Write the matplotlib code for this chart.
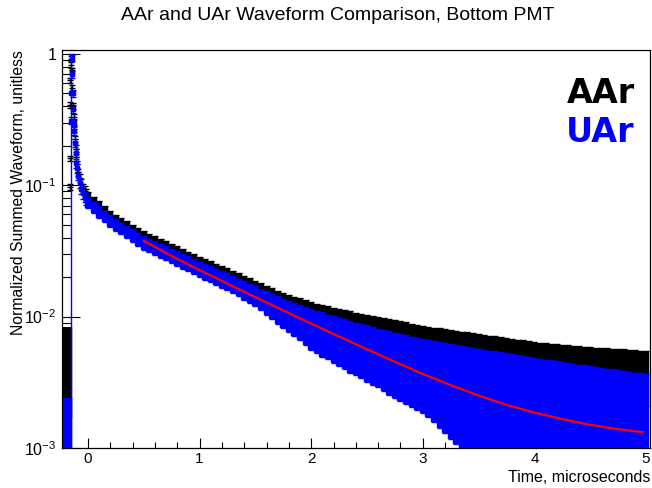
import numpy as np
import matplotlib
matplotlib.use("Agg")
import matplotlib.pyplot as plt
from matplotlib.ticker import LogLocator, NullFormatter, MultipleLocator

plt.rcParams['font.family'] = ['Liberation Sans', 'DejaVu Sans']
plt.rcParams['mathtext.fontset'] = 'custom'
plt.rcParams['mathtext.rm'] = 'Liberation Sans'
plt.rcParams['mathtext.it'] = 'Liberation Sans:italic'

# ---- data ----
# pre-trigger baseline
pre_t = [-0.226, -0.207, -0.188, -0.170]
aar_pre = [0.0050, 0.0050, 0.0050, 0.0050]
aar_pre_err = [0.0033, 0.0033, 0.0033, 0.0033]
uar_pre = [0.0014, 0.0014, 0.0014, 0.0014]
uar_pre_err = [0.0010, 0.0010, 0.0010, 0.0010]

# prompt peak
aar_peak_t = [-0.163, -0.161, -0.159, -0.157, -0.155, -0.150, -0.145, -0.140, -0.135, -0.128,
              -0.122, -0.116, -0.110, -0.104, -0.097, -0.088, -0.074, -0.060, -0.045, -0.030, -0.015]
aar_peak = [0.097, 0.16, 0.41, 0.63, 0.82, 0.92, 0.75, 0.55, 0.40, 0.33,
            0.27, 0.225, 0.19, 0.163, 0.145, 0.126, 0.113, 0.103, 0.095, 0.090, 0.085]
aar_peak_err = [0.005, 0.008, 0.02, 0.03, 0.04, 0.04, 0.035, 0.03, 0.02, 0.018,
                0.015, 0.013, 0.011, 0.01, 0.009, 0.008, 0.008, 0.008, 0.008, 0.008, 0.008]

uar_peak_t = [-0.154, -0.150, -0.146, -0.142, -0.138, -0.134, -0.128, -0.122, -0.117, -0.112,
              -0.106, -0.100, -0.090, -0.075, -0.060, -0.045, -0.030, -0.015]
uar_peak = [0.5, 0.31, 0.93, 0.70, 0.50, 0.38, 0.30, 0.26, 0.21, 0.177,
            0.147, 0.135, 0.118, 0.104, 0.094, 0.087, 0.082, 0.078]
uar_peak_err = [0.4995, 0.02, 0.05, 0.04, 0.03, 0.025, 0.02, 0.017, 0.014, 0.012,
                0.011, 0.01, 0.009, 0.008, 0.008, 0.008, 0.0075, 0.0072]

# slow tail, 0.05 us bins from 0 to 5 us
tail_t = np.round(np.arange(0.0, 5.001, 0.05), 2)
aar_tail = [0.0816, 0.0748, 0.0690, 0.0637, 0.0590, 0.0548,
            0.0517, 0.0487, 0.0459, 0.0433, 0.0408,
            0.0390, 0.0372, 0.0356, 0.0340, 0.0325,
            0.0310, 0.0296, 0.0283, 0.0270, 0.0258,
            0.0248, 0.0238, 0.0228, 0.0219, 0.0210,
            0.0200, 0.0191, 0.0182, 0.0174, 0.0166,
            0.0158, 0.0151, 0.0143, 0.0137, 0.0130,
            0.0125, 0.0120, 0.0116, 0.0111, 0.0107,
            0.01038, 0.01008, 0.00978, 0.00949, 0.00921,
            0.00897, 0.00874, 0.00852, 0.00830, 0.00809,
            0.00790, 0.00772, 0.00754, 0.00736, 0.00719,
            0.00702, 0.00686, 0.00670, 0.00654, 0.00639,
            0.00627, 0.00614, 0.00602, 0.00590, 0.00579,
            0.00568, 0.00558, 0.00548, 0.00538, 0.00528,
            0.00520, 0.00513, 0.00505, 0.00497, 0.00490,
            0.00483, 0.00476, 0.00470, 0.00463, 0.00456,
            0.00450, 0.00445, 0.00440, 0.00434, 0.00429,
            0.00425, 0.00421, 0.00416, 0.00412, 0.00408,
            0.00405, 0.00402, 0.00399, 0.00396, 0.00393,
            0.00390, 0.00387, 0.00384, 0.00381, 0.00378]
aar_tail_err = [0.0073, 0.0068, 0.0063, 0.0057, 0.0052, 0.0047,
                0.0046, 0.0045, 0.0043, 0.0042, 0.0041,
                0.0039, 0.0038, 0.0036, 0.0035, 0.0033,
                0.0032, 0.0031, 0.0030, 0.0028, 0.0027,
                0.0026, 0.0026, 0.0025, 0.0025, 0.0024,
                0.0023, 0.0023, 0.0022, 0.0022, 0.0021,
                0.0021, 0.0021, 0.0021, 0.0021, 0.0021,
                0.00212, 0.00214, 0.00216, 0.00218, 0.0022,
                0.0022, 0.00221, 0.00221, 0.00222, 0.00222,
                0.00221, 0.00221, 0.0022, 0.0022, 0.00219,
                0.0022, 0.00221, 0.00222, 0.00223, 0.00224,
                0.00221, 0.00218, 0.00215, 0.00212, 0.00209,
                0.0021, 0.0021, 0.00211, 0.00211, 0.00212,
                0.00212, 0.00211, 0.00211, 0.0021, 0.0021,
                0.00207, 0.00205, 0.00202, 0.0020, 0.00197,
                0.00195, 0.00192, 0.0019, 0.00187, 0.00185,
                0.00184, 0.00183, 0.00181, 0.0018, 0.00179,
                0.00179, 0.00179, 0.00178, 0.00178, 0.00178,
                0.00177, 0.00176, 0.00175, 0.00174, 0.00173,
                0.00172, 0.00171, 0.0017, 0.0017, 0.00169]
uar_tail = [0.0743, 0.0680, 0.0627, 0.0580, 0.0538, 0.0501,
            0.0471, 0.0442, 0.0416, 0.0391, 0.0367,
            0.0351, 0.0335, 0.0320, 0.0306, 0.0292,
            0.0279, 0.0266, 0.0254, 0.0242, 0.0231,
            0.0221, 0.0212, 0.0203, 0.0194, 0.0186,
            0.0177, 0.01685, 0.0160, 0.01525, 0.01453,
            0.01372, 0.01295, 0.01223, 0.01154, 0.0109,
            0.01037, 0.00987, 0.00939, 0.00893, 0.0085,
            0.00817, 0.00786, 0.00756, 0.00727, 0.00699,
            0.00676, 0.00653, 0.00631, 0.0061, 0.0059,
            0.0057, 0.0055, 0.00531, 0.00513, 0.00495,
            0.00481, 0.00468, 0.00455, 0.00442, 0.0043,
            0.00417, 0.00404, 0.00391, 0.00379, 0.00367,
            0.00357, 0.00347, 0.00337, 0.00327, 0.00318,
            0.00313, 0.00308, 0.00303, 0.00298, 0.00294,
            0.00289, 0.00284, 0.00279, 0.00275, 0.0027,
            0.00266, 0.00262, 0.00258, 0.00254, 0.0025,
            0.00246, 0.00242, 0.00238, 0.00234, 0.0023,
            0.00228, 0.00226, 0.00224, 0.00222, 0.0022,
            0.00218, 0.00216, 0.00214, 0.00212, 0.0021]
uar_tail_err = [0.0070, 0.0066, 0.0062, 0.0058, 0.0054, 0.0050,
                0.0049, 0.0047, 0.0046, 0.0044, 0.0043,
                0.0042, 0.0040, 0.0039, 0.0037, 0.0036,
                0.0035, 0.0034, 0.0033, 0.0032, 0.0031,
                0.0030, 0.0029, 0.0029, 0.0028, 0.0027,
                0.0027, 0.0026, 0.0026, 0.0025, 0.0025,
                0.0025, 0.0026, 0.0026, 0.0027, 0.0027,
                0.0027, 0.0028, 0.0028, 0.0029, 0.0029,
                0.0029, 0.0029, 0.0028, 0.0028, 0.0028,
                0.0028, 0.0028, 0.0027, 0.0027, 0.0027,
                0.0027, 0.0026, 0.0026, 0.0026, 0.00255,
                0.00253, 0.00251, 0.00249, 0.00247, 0.00245,
                0.00246, 0.00247, 0.00248, 0.00249, 0.0025,
                0.0025, 0.0025, 0.00249, 0.00249, 0.00248,
                0.00245, 0.00242, 0.0024, 0.00237, 0.00234,
                0.0023, 0.00226, 0.00222, 0.00218, 0.00214,
                0.00211, 0.00208, 0.00206, 0.00203, 0.0020,
                0.00198, 0.00196, 0.00194, 0.00192, 0.0019,
                0.00186, 0.00182, 0.00178, 0.00174, 0.0017,
                0.00167, 0.00164, 0.00161, 0.00158, 0.00156]

# fit curve on the UAr tail
fit_t = [0.5, 0.75, 1.0, 1.25, 1.5, 1.75, 2.0, 2.25, 2.5, 2.75,
         3.0, 3.25, 3.5, 3.75, 4.0, 4.25, 4.5, 4.75, 4.97]
fit_vals = [0.0377, 0.0289, 0.0226, 0.0178, 0.01406, 0.01114, 0.00885, 0.00705, 0.00564, 0.00453,
            0.00366, 0.00301, 0.00251, 0.00213, 0.00186, 0.00166, 0.00150, 0.00139, 0.00132]

xticks = [0, 1, 2, 3, 4, 5]
yticks = [1e-3, 1e-2, 1e-1, 1]
ytick_labels = ['$10^{-3}$', '$10^{-2}$', '$10^{-1}$', '1']

# ---- plot ----
fig = plt.figure(figsize=(6.52, 4.88), dpi=100)
ax = fig.add_axes([62 / 652, 40 / 488, 588 / 652, 398 / 488])
ax.set_yscale('log')

# AAr (black) first, UAr (blue) drawn over it
ax.errorbar(pre_t, aar_pre, yerr=aar_pre_err, fmt='none', ecolor='black', elinewidth=4.6)
ax.errorbar(tail_t, aar_tail, yerr=aar_tail_err, fmt='none', ecolor='black',
            elinewidth=4.6, capsize=2.5, capthick=1)
ax.errorbar(aar_peak_t, aar_peak, yerr=aar_peak_err, fmt='_', color='black', ms=4,
            elinewidth=1, capsize=2, capthick=1)

ax.errorbar(pre_t, uar_pre, yerr=uar_pre_err, fmt='none', ecolor='blue', elinewidth=4.6)
ax.errorbar(tail_t, uar_tail, yerr=uar_tail_err, fmt='none', ecolor='blue',
            elinewidth=4.6, capsize=2.5, capthick=1)
ax.errorbar(uar_peak_t, uar_peak, yerr=uar_peak_err, fmt='s', color='blue', ms=2.5,
            elinewidth=1, capsize=2, capthick=1)

ax.plot(fit_t, fit_vals, color='red', lw=1.6)

ax.set_xlim(-0.233, 5.036)
ax.set_ylim(1e-3, 1.07)

ax.set_xticks(xticks)
ax.set_xticklabels([str(x) for x in xticks])
ax.xaxis.set_minor_locator(MultipleLocator(0.2))
ax.set_yticks(yticks)
ax.set_yticklabels(ytick_labels)
ax.yaxis.set_minor_locator(LogLocator(base=10, subs=np.arange(2, 10)))
ax.yaxis.set_minor_formatter(NullFormatter())

ax.tick_params(which='both', direction='in', top=False, right=False, width=0.8, labelsize=11)
ax.tick_params(axis='y', which='major', length=13, pad=4, labelsize=11.5)
ax.tick_params(axis='y', which='minor', length=6.5)
ax.tick_params(axis='x', which='major', length=7.5, pad=3)
ax.tick_params(axis='x', which='minor', length=4)
for s in ax.spines.values():
    s.set_linewidth(0.9)

ax.set_xlabel('Time, microseconds', fontsize=11.5, loc='right')
ax.xaxis.set_label_coords(1.0, -0.056)
ax.set_ylabel('Normalized Summed Waveform, unitless', fontsize=11.3, loc='top')
ax.yaxis.set_label_coords(-0.061, 1.0)

fig.text(0.518, 1 - 15 / 488, 'AAr and UAr Waveform Comparison, Bottom PMT',
         ha='center', va='center', fontsize=14)

ax.text(0.974, 0.867, 'AAr', transform=ax.transAxes, ha='right', va='baseline',
        fontsize=24, fontweight='bold', family='DejaVu Sans', color='black')
ax.text(0.974, 0.769, 'UAr', transform=ax.transAxes, ha='right', va='baseline',
        fontsize=24, fontweight='bold', family='DejaVu Sans', color='blue')

fig.savefig('out.png', dpi=100)
